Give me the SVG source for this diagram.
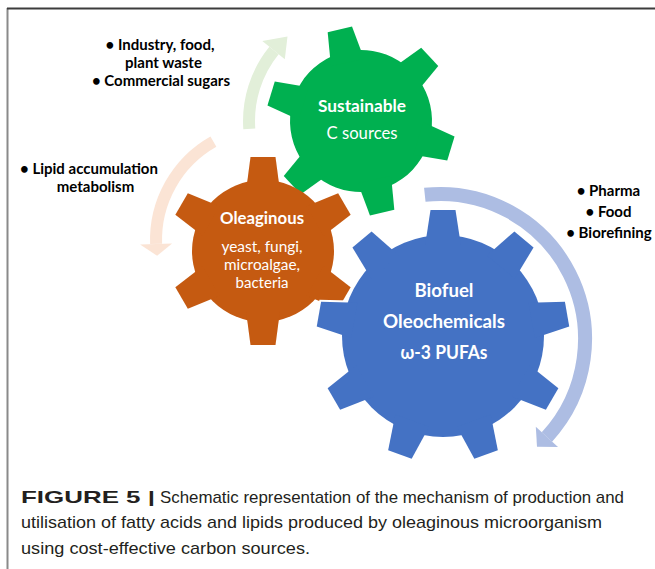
<svg xmlns="http://www.w3.org/2000/svg" width="655" height="569" viewBox="0 0 655 569">
<style>
.lbl{font-family:Lato,"Open Sans",sans-serif;font-weight:700;font-size:15px;fill:#000;text-anchor:middle}
.gt{font-family:Lato,"Open Sans",sans-serif;fill:#fff;text-anchor:middle;font-size:17px}
.sm{font-size:14.5px}
.lg{font-size:19px}
.b{font-weight:700}
.cap{font-family:"Liberation Sans",Arial,sans-serif;font-size:17px;fill:#231f20}
.arc{fill:none}
</style>
<defs>
  <polygon id="toothS" points="-17,-60 17,-60 12.5,-94 -12.5,-94"/>
  <polygon id="toothL" points="-18,-90 18,-90 12.5,-126 -12.5,-126"/>
  <g id="gearS">
    <circle r="71"/>
    <use href="#toothS"/>
    <use href="#toothS" transform="rotate(60)"/>
    <use href="#toothS" transform="rotate(120)"/>
    <use href="#toothS" transform="rotate(180)"/>
    <use href="#toothS" transform="rotate(240)"/>
    <use href="#toothS" transform="rotate(300)"/>
  </g>
  <g id="gearL">
    <circle r="101"/>
    <use href="#toothL"/>
    <use href="#toothL" transform="rotate(40)"/>
    <use href="#toothL" transform="rotate(80)"/>
    <use href="#toothL" transform="rotate(120)"/>
    <use href="#toothL" transform="rotate(160)"/>
    <use href="#toothL" transform="rotate(200)"/>
    <use href="#toothL" transform="rotate(240)"/>
    <use href="#toothL" transform="rotate(280)"/>
    <use href="#toothL" transform="rotate(320)"/>
  </g>
</defs>
<rect width="655" height="569" fill="#fff"/>
<g id="frame">
  <line x1="7.5" y1="8" x2="7.5" y2="569" stroke="#8a8a8a" stroke-width="2"/>
  <line x1="7" y1="8.5" x2="655" y2="8.5" stroke="#3c3c3c" stroke-width="2"/>
</g>
<g id="connectors">
  <g id="arrow-sources">
    <path class="arc" d="M249.3 128.8 A112 112 0 0 1 274.0 50.5" stroke="#e2efd9" stroke-width="12"/>
    <polygon points="284.8,59.3 262.3,41.1 287.5,36.5" fill="#e2efd9"/>
  </g>
  <g id="arrow-lipid">
    <path class="arc" d="M213.4 141.6 A113 113 0 0 0 156.1 243.9" stroke="#fbe4d5" stroke-width="12"/>
    <polygon points="172.1,243.4 140.1,244.5 157.1,255.7" fill="#fbe4d5"/>
  </g>
  <g id="arrow-products">
    <path class="arc" d="M424.8 194.8 A145 145 0 0 1 546.9 437.0" stroke="#adbde3" stroke-width="14"/>
    <polygon points="535.8,426.8 558.0,447.1 537.0,446.7" fill="#adbde3"/>
  </g>
</g>
<g id="gear-sustainable">
  <use href="#gearS" transform="translate(361,121) rotate(-13)" fill="#00b050"/>
  <text class="gt b" x="362" y="112" textLength="88" lengthAdjust="spacingAndGlyphs">Sustainable</text>
  <text class="gt" x="362" y="139" textLength="71" lengthAdjust="spacingAndGlyphs">C sources</text>
</g>
<g id="gear-oleaginous">
  <use href="#gearS" transform="translate(263,251)" fill="#c55a11"/>
  <text class="gt b" x="262" y="224" textLength="84" lengthAdjust="spacingAndGlyphs">Oleaginous</text>
  <text class="gt sm" x="262" y="252" textLength="81" lengthAdjust="spacingAndGlyphs">yeast, fungi,</text>
  <text class="gt sm" x="262" y="270" textLength="76" lengthAdjust="spacingAndGlyphs">microalgae,</text>
  <text class="gt sm" x="262" y="288" textLength="53" lengthAdjust="spacingAndGlyphs">bacteria</text>
</g>
<g id="gear-biofuel">
  <use href="#gearL" transform="translate(443,336)" fill="#fff" stroke="#fff" stroke-width="4"/>
  <use href="#gearL" transform="translate(443,336)" fill="#4472c4"/>
  <text class="gt b lg" x="444" y="297" textLength="59" lengthAdjust="spacingAndGlyphs">Biofuel</text>
  <text class="gt b lg" x="444" y="328" textLength="122" lengthAdjust="spacingAndGlyphs">Oleochemicals</text>
  <text class="gt b lg" x="444" y="359" textLength="87" lengthAdjust="spacingAndGlyphs">ω-3 PUFAs</text>
</g>
<g id="label-sources" class="lbl">
  <text x="160" y="50">• Industry, food,</text>
  <text x="163.5" y="68">plant waste</text>
  <text x="161" y="86">• Commercial sugars</text>
</g>
<g id="label-lipid" class="lbl">
  <text x="89" y="174">• Lipid accumulation</text>
  <text x="95.5" y="192">metabolism</text>
</g>
<g id="label-products" class="lbl">
  <text x="608.5" y="196">• Pharma</text>
  <text x="608.5" y="217">• Food</text>
  <text x="609" y="238">• Biorefining</text>
</g>
<g id="caption">
  <text class="cap" x="21" y="503" font-weight="700" textLength="134" lengthAdjust="spacingAndGlyphs">FIGURE 5 |</text>
  <text class="cap" x="160" y="503" textLength="464" lengthAdjust="spacingAndGlyphs">Schematic representation of the mechanism of production and</text>
  <text class="cap" x="21" y="528" textLength="581" lengthAdjust="spacingAndGlyphs">utilisation of fatty acids and lipids produced by oleaginous microorganism</text>
  <text class="cap" x="21" y="554" textLength="289" lengthAdjust="spacingAndGlyphs">using cost-effective carbon sources.</text>
</g>
</svg>
